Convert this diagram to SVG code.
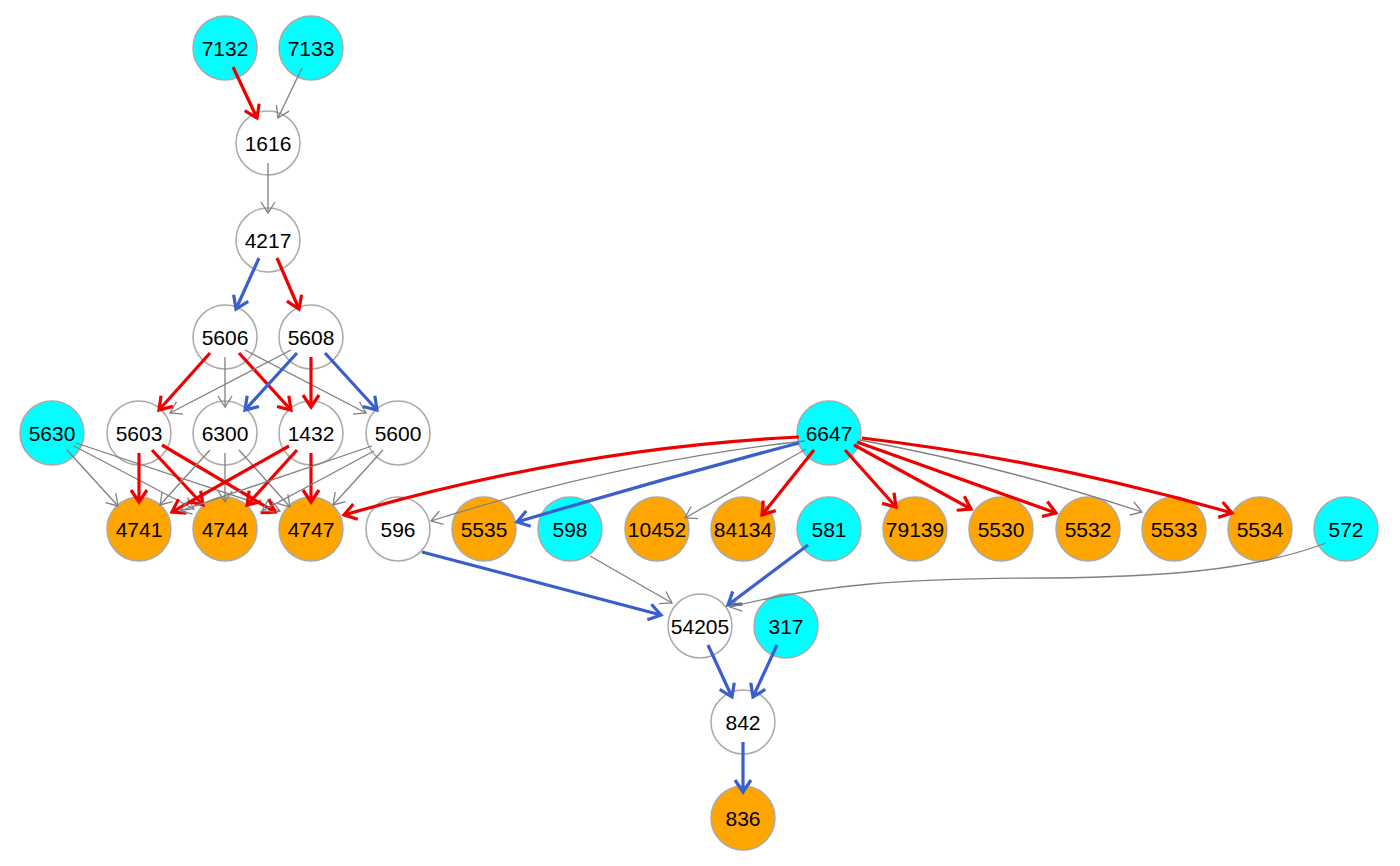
<svg xmlns="http://www.w3.org/2000/svg" width="1400" height="866" viewBox="0 0 1400 866">
<style>
.n circle{stroke:#AAAAAA;stroke-width:1.5}
.w circle{fill:#FFFFFF}
.c circle{fill:#00FFFF}
.o circle{fill:#FFA500}
.n text{font-family:"Liberation Sans",Arial,sans-serif;font-size:21px;fill:#000;text-anchor:middle}
.e{fill:none}
.g{stroke:#808080;stroke-width:1.3;marker-end:url(#ag)}
.r{stroke:#EE0000;stroke-width:3.2;marker-end:url(#ar)}
.b{stroke:#3A5FCD;stroke-width:3.2;marker-end:url(#ab)}
</style>
<defs>
<marker id="ag" viewBox="-14 -9 16 18" refX="0" refY="0" markerWidth="16" markerHeight="18" orient="auto" markerUnits="userSpaceOnUse" overflow="visible"><path d="M-11,-7 L0,0 L-11,7" fill="none" stroke="#808080" stroke-width="1.3"/></marker>
<marker id="ar" viewBox="-16 -10 20 20" refX="0" refY="0" markerWidth="20" markerHeight="20" orient="auto" markerUnits="userSpaceOnUse" overflow="visible"><path d="M-12,-8 L0,0 L-12,8" fill="none" stroke="#EE0000" stroke-width="3.2"/></marker>
<marker id="ab" viewBox="-16 -10 20 20" refX="0" refY="0" markerWidth="20" markerHeight="20" orient="auto" markerUnits="userSpaceOnUse" overflow="visible"><path d="M-12,-8 L0,0 L-12,8" fill="none" stroke="#3A5FCD" stroke-width="3.2"/></marker>
</defs>
<rect width="1400" height="866" fill="#FFFFFF"/>
<g id="nodes">
<g id="n7132" class="n c"><circle cx="225" cy="48" r="32"/><text x="225" y="55.5">7132</text></g>
<g id="n7133" class="n c"><circle cx="311" cy="48" r="32"/><text x="311" y="55.5">7133</text></g>
<g id="n1616" class="n w"><circle cx="268" cy="143" r="32"/><text x="268" y="150.5">1616</text></g>
<g id="n4217" class="n w"><circle cx="268" cy="240" r="32"/><text x="268" y="247.5">4217</text></g>
<g id="n5606" class="n w"><circle cx="225" cy="337" r="32"/><text x="225" y="344.5">5606</text></g>
<g id="n5608" class="n w"><circle cx="311" cy="337" r="32"/><text x="311" y="344.5">5608</text></g>
<g id="n5630" class="n c"><circle cx="52" cy="433" r="32"/><text x="52" y="440.5">5630</text></g>
<g id="n5603" class="n w"><circle cx="139" cy="433" r="32"/><text x="139" y="440.5">5603</text></g>
<g id="n6300" class="n w"><circle cx="225" cy="433" r="32"/><text x="225" y="440.5">6300</text></g>
<g id="n1432" class="n w"><circle cx="311" cy="433" r="32"/><text x="311" y="440.5">1432</text></g>
<g id="n5600" class="n w"><circle cx="398" cy="433" r="32"/><text x="398" y="440.5">5600</text></g>
<g id="n6647" class="n c"><circle cx="829" cy="433" r="32"/><text x="829" y="440.5">6647</text></g>
<g id="n4741" class="n o"><circle cx="139" cy="529" r="32"/><text x="139" y="536.5">4741</text></g>
<g id="n4744" class="n o"><circle cx="225" cy="529" r="32"/><text x="225" y="536.5">4744</text></g>
<g id="n4747" class="n o"><circle cx="311" cy="529" r="32"/><text x="311" y="536.5">4747</text></g>
<g id="n596" class="n w"><circle cx="398" cy="529" r="32"/><text x="398" y="536.5">596</text></g>
<g id="n5535" class="n o"><circle cx="484" cy="529" r="32"/><text x="484" y="536.5">5535</text></g>
<g id="n598" class="n c"><circle cx="570" cy="529" r="32"/><text x="570" y="536.5">598</text></g>
<g id="n10452" class="n o"><circle cx="657" cy="529" r="32"/><text x="657" y="536.5">10452</text></g>
<g id="n84134" class="n o"><circle cx="743" cy="529" r="32"/><text x="743" y="536.5">84134</text></g>
<g id="n581" class="n c"><circle cx="829" cy="529" r="32"/><text x="829" y="536.5">581</text></g>
<g id="n79139" class="n o"><circle cx="915" cy="529" r="32"/><text x="915" y="536.5">79139</text></g>
<g id="n5530" class="n o"><circle cx="1001" cy="529" r="32"/><text x="1001" y="536.5">5530</text></g>
<g id="n5532" class="n o"><circle cx="1088" cy="529" r="32"/><text x="1088" y="536.5">5532</text></g>
<g id="n5533" class="n o"><circle cx="1174" cy="529" r="32"/><text x="1174" y="536.5">5533</text></g>
<g id="n5534" class="n o"><circle cx="1260" cy="529" r="32"/><text x="1260" y="536.5">5534</text></g>
<g id="n572" class="n c"><circle cx="1346" cy="529" r="32"/><text x="1346" y="536.5">572</text></g>
<g id="n54205" class="n w"><circle cx="700" cy="626" r="32"/><text x="700" y="633.5">54205</text></g>
<g id="n317" class="n c"><circle cx="786" cy="626" r="32"/><text x="786" y="633.5">317</text></g>
<g id="n842" class="n w"><circle cx="743" cy="722" r="32"/><text x="743" y="729.5">842</text></g>
<g id="n836" class="n o"><circle cx="743" cy="818" r="32"/><text x="743" y="825.5">836</text></g>
</g>
<g id="edges" class="e">
<line class="r" x1="233" y1="67" x2="257" y2="118"/>
<line class="g" x1="302" y1="68" x2="278" y2="118"/>
<line class="g" x1="268" y1="163" x2="268" y2="213"/>
<line class="b" x1="259" y1="258" x2="236" y2="309"/>
<line class="r" x1="277" y1="258" x2="299" y2="309"/>
<line class="r" x1="210" y1="353" x2="159" y2="410"/>
<line class="g" x1="225" y1="357" x2="225" y2="407"/>
<line class="r" x1="239" y1="353" x2="291" y2="410"/>
<line class="g" x1="245" y1="350" x2="366" y2="413"/>
<line class="g" x1="291" y1="350" x2="170" y2="413"/>
<line class="b" x1="297" y1="353" x2="245" y2="410"/>
<line class="r" x1="311" y1="357" x2="311" y2="407"/>
<line class="b" x1="325" y1="353" x2="377" y2="410"/>
<line class="g" x1="67" y1="450" x2="118" y2="506"/>
<line class="g" x1="74" y1="446" x2="194" y2="509"/>
<line class="g" x1="76" y1="443" x2="280" y2="511"/>
<line class="r" x1="139" y1="453" x2="139" y2="502"/>
<line class="r" x1="152" y1="450" x2="203" y2="505"/>
<line class="r" x1="162" y1="445" x2="275" y2="512"/>
<line class="g" x1="210" y1="450" x2="160" y2="505"/>
<line class="g" x1="225" y1="453" x2="225" y2="502"/>
<line class="g" x1="239" y1="450" x2="290" y2="507"/>
<line class="r" x1="289" y1="446" x2="172" y2="512"/>
<line class="r" x1="297" y1="450" x2="247" y2="505"/>
<line class="r" x1="311" y1="453" x2="311" y2="502"/>
<line class="g" x1="372" y1="446" x2="180" y2="511"/>
<line class="g" x1="374" y1="451" x2="262" y2="511"/>
<line class="g" x1="383" y1="450" x2="333" y2="505"/>
<path class="r" d="M799,437 Q575,448 344,515"/>
<path class="g" d="M805,441 Q620,461 431,521"/>
<path class="b" d="M799,443 Q658,480 517,522"/>
<line class="g" x1="806" y1="449" x2="685" y2="518"/>
<line class="r" x1="814" y1="450" x2="762" y2="515"/>
<line class="r" x1="845" y1="450" x2="896" y2="507"/>
<line class="r" x1="854" y1="445" x2="971" y2="509"/>
<line class="r" x1="857" y1="442" x2="1056" y2="513"/>
<path class="g" d="M860,440 Q1010,468 1142,512"/>
<path class="r" d="M862,438 Q1047,460 1232,513"/>
<line class="b" x1="422" y1="552" x2="661" y2="615"/>
<line class="g" x1="590" y1="556" x2="672" y2="603"/>
<line class="b" x1="808" y1="545" x2="728" y2="605"/>
<path class="g" d="M1326,543 C1250,572 1150,577 1050,578 C900,578 820,585 730,607"/>
<line class="b" x1="708" y1="645" x2="732" y2="697"/>
<line class="b" x1="777" y1="645" x2="753" y2="697"/>
<line class="b" x1="743" y1="742" x2="743" y2="792"/>
</g>
</svg>
